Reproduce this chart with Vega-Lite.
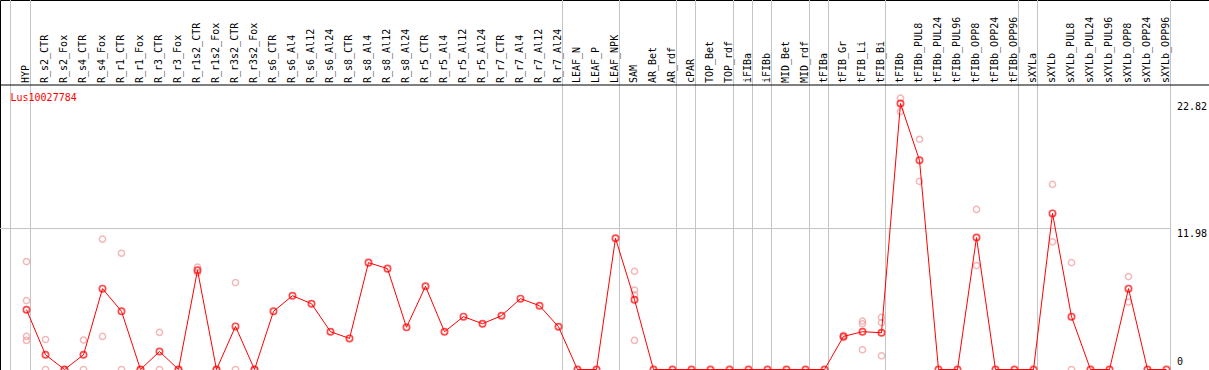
{
  "$schema": "https://vega.github.io/schema/vega-lite/v6.json",
  "padding": 0,
  "width": 1209,
  "height": 370,
  "autosize": {"type": "fit", "contains": "padding"},
  "config": {
    "view": {"stroke": "black", "strokeWidth": 1},
    "text": {"font": "DejaVu Sans Mono", "fontSize": 10}
  },
  "datasets": {
    "means": [
      {"sample": "HYP", "value": 5.08},
      {"sample": "R_s2_CTR", "value": 1.25},
      {"sample": "R_s2_Fox", "value": 0},
      {"sample": "R_s4_CTR", "value": 1.25},
      {"sample": "R_s4_Fox", "value": 6.87},
      {"sample": "R_r1_CTR", "value": 4.94},
      {"sample": "R_r1_Fox", "value": 0},
      {"sample": "R_r3_CTR", "value": 1.53},
      {"sample": "R_r3_Fox", "value": 0},
      {"sample": "R_r1s2_CTR", "value": 8.43},
      {"sample": "R_r1s2_Fox", "value": 0},
      {"sample": "R_r3s2_CTR", "value": 3.66},
      {"sample": "R_r3s2_Fox", "value": 0},
      {"sample": "R_s6_CTR", "value": 4.94},
      {"sample": "R_s6_Al4", "value": 6.27},
      {"sample": "R_s6_Al12", "value": 5.59},
      {"sample": "R_s6_Al24", "value": 3.21},
      {"sample": "R_s8_CTR", "value": 2.64},
      {"sample": "R_s8_Al4", "value": 9.08},
      {"sample": "R_s8_Al12", "value": 8.57},
      {"sample": "R_s8_Al24", "value": 3.58},
      {"sample": "R_r5_CTR", "value": 7.07},
      {"sample": "R_r5_Al4", "value": 3.21},
      {"sample": "R_r5_Al12", "value": 4.49},
      {"sample": "R_r5_Al24", "value": 3.89},
      {"sample": "R_r7_CTR", "value": 4.57},
      {"sample": "R_r7_Al4", "value": 6.02},
      {"sample": "R_r7_Al12", "value": 5.42},
      {"sample": "R_r7_Al24", "value": 3.63},
      {"sample": "LEAF_N", "value": 0},
      {"sample": "LEAF_P", "value": 0},
      {"sample": "LEAF_NPK", "value": 11.15},
      {"sample": "SAM", "value": 5.93},
      {"sample": "AR_Bet", "value": 0},
      {"sample": "AR_rdf", "value": 0},
      {"sample": "cPAR", "value": 0},
      {"sample": "TOP_Bet", "value": 0},
      {"sample": "TOP_rdf", "value": 0},
      {"sample": "iFIBa", "value": 0},
      {"sample": "iFIBb", "value": 0},
      {"sample": "MID_Bet", "value": 0},
      {"sample": "MID_rdf", "value": 0},
      {"sample": "tFIBa", "value": 0},
      {"sample": "tFIB_Gr", "value": 2.81},
      {"sample": "tFIB_Li", "value": 3.21},
      {"sample": "tFIB_Bi", "value": 3.12},
      {"sample": "tFIBb", "value": 22.6},
      {"sample": "tFIBb_PUL8", "value": 17.77},
      {"sample": "tFIBb_PUL24", "value": 0},
      {"sample": "tFIBb_PUL96", "value": 0},
      {"sample": "tFIBb_OPP8", "value": 11.21},
      {"sample": "tFIBb_OPP24", "value": 0},
      {"sample": "tFIBb_OPP96", "value": 0},
      {"sample": "sXYLa", "value": 0},
      {"sample": "sXYLb", "value": 13.26},
      {"sample": "sXYLb_PUL8", "value": 4.49},
      {"sample": "sXYLb_PUL24", "value": 0},
      {"sample": "sXYLb_PUL96", "value": 0},
      {"sample": "sXYLb_OPP8", "value": 6.87},
      {"sample": "sXYLb_OPP24", "value": 0},
      {"sample": "sXYLb_OPP96", "value": 0}
    ],
    "reps": [
      {"sample": "HYP", "value": 9.17},
      {"sample": "HYP", "value": 5.85},
      {"sample": "HYP", "value": 2.81},
      {"sample": "HYP", "value": 2.47},
      {"sample": "R_s2_CTR", "value": 2.55},
      {"sample": "R_s2_CTR", "value": 0},
      {"sample": "R_s2_Fox", "value": 0},
      {"sample": "R_s4_CTR", "value": 2.5},
      {"sample": "R_s4_CTR", "value": 0},
      {"sample": "R_s4_Fox", "value": 11.07},
      {"sample": "R_s4_Fox", "value": 2.81},
      {"sample": "R_r1_CTR", "value": 9.88},
      {"sample": "R_r1_CTR", "value": 0},
      {"sample": "R_r1_Fox", "value": 0},
      {"sample": "R_r3_CTR", "value": 3.15},
      {"sample": "R_r3_CTR", "value": 0},
      {"sample": "R_r3_Fox", "value": 0},
      {"sample": "R_r1s2_CTR", "value": 8.71},
      {"sample": "R_r1s2_CTR", "value": 8.23},
      {"sample": "R_r1s2_Fox", "value": 0},
      {"sample": "R_r3s2_CTR", "value": 7.38},
      {"sample": "R_r3s2_CTR", "value": 0},
      {"sample": "R_r3s2_Fox", "value": 0},
      {"sample": "SAM", "value": 8.34},
      {"sample": "SAM", "value": 6.75},
      {"sample": "SAM", "value": 6.35},
      {"sample": "SAM", "value": 2.47},
      {"sample": "tFIB_Gr", "value": 2.9},
      {"sample": "tFIB_Gr", "value": 2.72},
      {"sample": "tFIB_Li", "value": 4.11},
      {"sample": "tFIB_Li", "value": 3.89},
      {"sample": "tFIB_Li", "value": 1.68},
      {"sample": "tFIB_Bi", "value": 4.43},
      {"sample": "tFIB_Bi", "value": 3.98},
      {"sample": "tFIB_Bi", "value": 1.17},
      {"sample": "tFIBb", "value": 23.05},
      {"sample": "tFIBb", "value": 21.91},
      {"sample": "tFIBb_PUL8", "value": 19.56},
      {"sample": "tFIBb_PUL8", "value": 15.98},
      {"sample": "tFIBb_OPP8", "value": 13.6},
      {"sample": "tFIBb_OPP8", "value": 8.83},
      {"sample": "sXYLb", "value": 15.73},
      {"sample": "sXYLb", "value": 10.84},
      {"sample": "sXYLb_PUL8", "value": 9.08},
      {"sample": "sXYLb_PUL8", "value": 0},
      {"sample": "sXYLb_OPP8", "value": 7.89},
      {"sample": "sXYLb_OPP8", "value": 5.73}
    ],
    "seps": [
      {"sample": "HYP"},
      {"sample": "R_r7_Al24"},
      {"sample": "LEAF_NPK"},
      {"sample": "AR_rdf"},
      {"sample": "cPAR"},
      {"sample": "TOP_rdf"},
      {"sample": "iFIBa"},
      {"sample": "iFIBb"},
      {"sample": "MID_rdf"},
      {"sample": "tFIBa"},
      {"sample": "tFIB_Bi"},
      {"sample": "tFIBb_OPP96"},
      {"sample": "sXYLa"},
      {"sample": "sXYLb_OPP96"}
    ],
    "ticks": [
      {"v": 11.98, "label": "11.98"},
      {"v": 22.82, "label": "22.82"}
    ],
    "zero": [
      {"v": 0, "label": "0"}
    ],
    "gene": [
      {"gene": "Lus10027784"}
    ]
  },
  "layer": [
    {
      "data": {"name": "seps"},
      "mark": {"type": "rule", "color": "#c4c4c4", "strokeWidth": 1, "xOffset": 4, "clip": true},
      "encoding": {
        "x": {"field": "sample", "type": "nominal", "axis": null,
          "scale": {"type": "point", "range": [26.5, 1166.5], "padding": 0,
            "domain": ["HYP","R_s2_CTR","R_s2_Fox","R_s4_CTR","R_s4_Fox","R_r1_CTR","R_r1_Fox","R_r3_CTR","R_r3_Fox","R_r1s2_CTR","R_r1s2_Fox","R_r3s2_CTR","R_r3s2_Fox","R_s6_CTR","R_s6_Al4","R_s6_Al12","R_s6_Al24","R_s8_CTR","R_s8_Al4","R_s8_Al12","R_s8_Al24","R_r5_CTR","R_r5_Al4","R_r5_Al12","R_r5_Al24","R_r7_CTR","R_r7_Al4","R_r7_Al12","R_r7_Al24","LEAF_N","LEAF_P","LEAF_NPK","SAM","AR_Bet","AR_rdf","cPAR","TOP_Bet","TOP_rdf","iFIBa","iFIBb","MID_Bet","MID_rdf","tFIBa","tFIB_Gr","tFIB_Li","tFIB_Bi","tFIBb","tFIBb_PUL8","tFIBb_PUL24","tFIBb_PUL96","tFIBb_OPP8","tFIBb_OPP24","tFIBb_OPP96","sXYLa","sXYLb","sXYLb_PUL8","sXYLb_PUL24","sXYLb_PUL96","sXYLb_OPP8","sXYLb_OPP24","sXYLb_OPP96"]}}
      }
    },
    {
      "data": {"name": "gene"},
      "mark": {"type": "rule", "color": "#c4c4c4", "strokeWidth": 1, "xOffset": -16, "clip": true},
      "encoding": {"x": {"datum": "HYP", "type": "nominal"}}
    },
    {
      "data": {"name": "gene"},
      "mark": {"type": "rule", "color": "#c4c4c4", "strokeWidth": 1, "xOffset": -26.5, "x2Offset": 4, "clip": true},
      "encoding": {
        "x": {"datum": "HYP", "type": "nominal"},
        "x2": {"datum": "sXYLb_OPP96"},
        "y": {"datum": 11.98, "type": "quantitative", "axis": null,
          "scale": {"domain": [-0.0425, 31.393], "nice": false, "zero": false}}
      }
    },
    {
      "data": {"name": "gene"},
      "mark": {"type": "rule", "color": "black", "strokeWidth": 1, "clip": true},
      "encoding": {
        "y": {"datum": 24.171, "type": "quantitative"}
      }
    },
    {
      "data": {"name": "means"},
      "mark": {"type": "text", "angle": 270, "align": "left", "baseline": "alphabetic", "dx": 2, "dy": 2, "color": "black", "clip": true},
      "encoding": {
        "x": {"field": "sample", "type": "nominal"},
        "y": {"datum": 24.171, "type": "quantitative"},
        "text": {"field": "sample"}
      }
    },
    {
      "data": {"name": "reps"},
      "mark": {"type": "point", "shape": "circle", "filled": false, "color": "#f09a9a", "strokeWidth": 1.5, "size": 38, "clip": true},
      "encoding": {
        "x": {"field": "sample", "type": "nominal"},
        "y": {"field": "value", "type": "quantitative"}
      }
    },
    {
      "data": {"name": "means"},
      "mark": {"type": "line", "color": "#ff0000", "strokeWidth": 1, "clip": true},
      "encoding": {
        "x": {"field": "sample", "type": "nominal"},
        "y": {"field": "value", "type": "quantitative"},
        "order": {"value": null}
      }
    },
    {
      "data": {"name": "means"},
      "mark": {"type": "point", "shape": "circle", "filled": false, "color": "#ff0000", "strokeWidth": 1.7, "size": 40, "clip": true},
      "encoding": {
        "x": {"field": "sample", "type": "nominal"},
        "y": {"field": "value", "type": "quantitative"}
      }
    },
    {
      "data": {"name": "gene"},
      "mark": {"type": "text", "align": "left", "baseline": "alphabetic", "dx": -16, "color": "#ff0000", "clip": true},
      "encoding": {
        "x": {"datum": "HYP", "type": "nominal"},
        "y": {"datum": 22.82, "type": "quantitative"},
        "text": {"field": "gene"}
      }
    },
    {
      "data": {"name": "ticks"},
      "mark": {"type": "text", "align": "left", "baseline": "top", "dx": 10.5, "dy": 1, "color": "black", "clip": true},
      "encoding": {
        "x": {"datum": "sXYLb_OPP96", "type": "nominal"},
        "y": {"field": "v", "type": "quantitative"},
        "text": {"field": "label"}
      }
    },
    {
      "data": {"name": "zero"},
      "mark": {"type": "text", "align": "left", "baseline": "bottom", "dx": 10.5, "dy": -2, "color": "black", "clip": true},
      "encoding": {
        "x": {"datum": "sXYLb_OPP96", "type": "nominal"},
        "y": {"field": "v", "type": "quantitative"},
        "text": {"field": "label"}
      }
    }
  ]
}
